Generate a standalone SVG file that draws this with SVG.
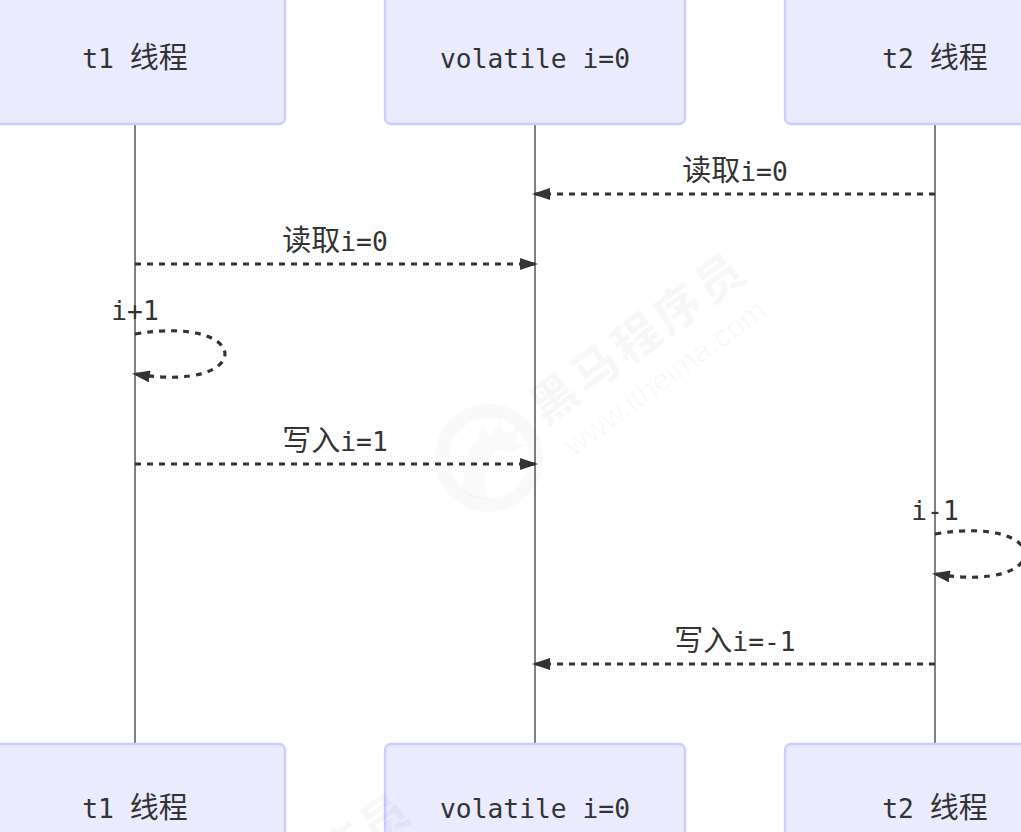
<svg xmlns="http://www.w3.org/2000/svg" width="1021" height="832" viewBox="0 0 1021 832">
<style>
text{font-family:"DejaVu Sans Mono","Noto Sans CJK SC",monospace;font-size:26.3px;fill:#333;text-anchor:middle}
.c{font-family:"Noto Sans CJK SC","DejaVu Sans",sans-serif;font-size:29px}
.box{fill:#ebebff;stroke:#ccccff;stroke-width:2.4}
.life{stroke:#808080;stroke-width:2;fill:none}
.msg{stroke:#333;stroke-width:3.2;stroke-dasharray:6 6;fill:none;marker-end:url(#arrow)}
.wa{font-family:"Noto Sans CJK SC",sans-serif;font-size:47px;font-weight:900;letter-spacing:4px;fill:#000;fill-opacity:.03}
.wb{font-family:"Liberation Sans",sans-serif;font-size:31px;fill:#000;fill-opacity:.03}
.wt{font-family:"Liberation Sans",sans-serif;font-size:12px;fill:#000;fill-opacity:.03}
.wr{fill:none;stroke:#000;stroke-opacity:.025;stroke-width:14}
.ws{fill:#000;fill-opacity:.02}
</style>
<defs>
<marker id="arrow" markerUnits="userSpaceOnUse" markerWidth="18" markerHeight="12" refX="15" refY="6" orient="auto"><path d="M0,0L18,6L0,12z" fill="#333"/></marker>
</defs>
<g id="lifelines">
<line class="life" x1="135" y1="124" x2="135" y2="744"/>
<line class="life" x1="535" y1="124" x2="535" y2="744"/>
<line class="life" x1="935" y1="124" x2="935" y2="744"/>
</g>
<g id="node-t1-top"><rect class="box" x="-15" y="-26" width="300" height="150" rx="6"/><text x="135" y="68">t1 <tspan class="c">线程</tspan></text></g>
<g id="node-v-top"><rect class="box" x="385" y="-26" width="300" height="150" rx="6"/><text x="535" y="68">volatile i=0</text></g>
<g id="node-t2-top"><rect class="box" x="785" y="-26" width="300" height="150" rx="6"/><text x="935" y="68">t2 <tspan class="c">线程</tspan></text></g>
<g id="node-t1-bottom"><rect class="box" x="-15" y="744" width="300" height="150" rx="6"/><text x="135" y="818">t1 <tspan class="c">线程</tspan></text></g>
<g id="node-v-bottom"><rect class="box" x="385" y="744" width="300" height="150" rx="6"/><text x="535" y="818">volatile i=0</text></g>
<g id="node-t2-bottom"><rect class="box" x="785" y="744" width="300" height="150" rx="6"/><text x="935" y="818">t2 <tspan class="c">线程</tspan></text></g>
<g id="connectors">
<path class="msg" d="M935,194H535"/>
<path class="msg" d="M135,264H535"/>
<path class="msg" d="M135,334C255,314 255,394 135,374"/>
<path class="msg" d="M135,464H535"/>
<path class="msg" d="M935,534C1055,514 1055,594 935,574"/>
<path class="msg" d="M935,664H535"/>
</g>
<g id="labels">
<text x="735" y="181"><tspan class="c">读取</tspan>i=0</text>
<text x="335" y="251"><tspan class="c">读取</tspan>i=0</text>
<text x="135" y="320">i+1</text>
<text x="335" y="451"><tspan class="c">写入</tspan>i=1</text>
<text x="935" y="520">i-1</text>
<text x="735" y="651"><tspan class="c">写入</tspan>i=-1</text>
</g>
<g id="watermark">
<circle class="wr" cx="489" cy="458" r="47"/>
<path class="ws" d="M462,490L468,450L478,440L482,425L490,436L500,420L505,434L520,425L516,442L527,445L512,452L496,450L484,470L488,500L470,497z"/>
<text class="wa" transform="translate(648 351) rotate(-36)">黑马程序员</text>
<text class="wb" transform="translate(671 386) rotate(-36)">www.itheima.com</text>
<text class="wt" transform="translate(743 258) rotate(-36)">TM</text>
<text class="wa" transform="translate(313 891) rotate(-36)">黑马程序员</text>
<text class="wt" transform="translate(408 798) rotate(-36)">TM</text>
</g>
</svg>
